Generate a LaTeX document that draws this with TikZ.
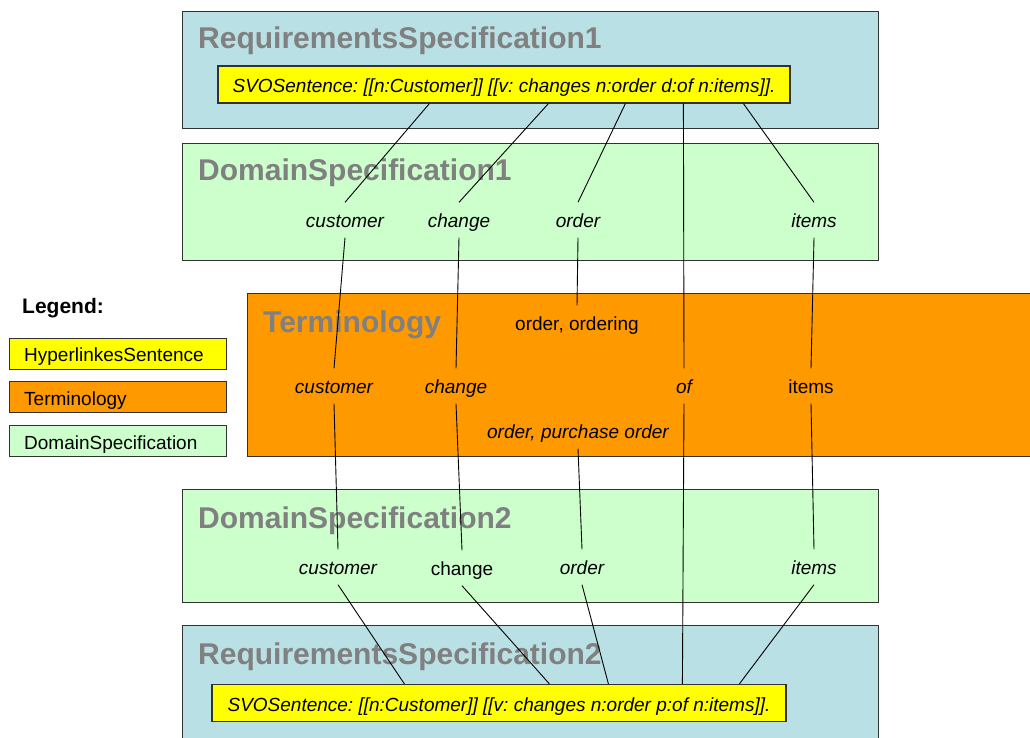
\documentclass[tikz,border=0pt]{standalone}
\usepackage{fontspec}
\setmainfont{Liberation Sans}
\usetikzlibrary{calc}
\frenchspacing
\definecolor{reqfill}{RGB}{185,224,228}
\definecolor{domfill}{RGB}{204,255,204}
\definecolor{termfill}{RGB}{255,153,0}
\definecolor{sentfill}{RGB}{255,255,0}
\definecolor{edgegray}{RGB}{50,50,50}
\definecolor{titlegray}{RGB}{128,128,128}
\begin{document}
\begin{tikzpicture}[x=1pt,y=-1pt,
  panel/.style={draw=edgegray, line width=1.2pt, inner sep=0pt, anchor=north west},
  paneltitle/.style={anchor=base west, inner sep=0pt, text=titlegray,
    font=\fontsize{30}{34}\bfseries\selectfont},
  sentence/.style={draw=edgegray, line width=1.2pt, fill=sentfill, inner sep=0pt,
    minimum height=37pt, text height=18pt, text depth=2pt,
    font=\fontsize{19}{22}\itshape\selectfont},
  word/.style={inner sep=0pt, minimum height=35pt, text height=16pt, text depth=2pt,
    font=\fontsize{19}{22}\selectfont},
  iword/.style={word, font=\fontsize{19}{22}\itshape\selectfont},
  legendbox/.style={draw=edgegray, line width=1.2pt, anchor=north west, inner sep=0pt,
    minimum width=217pt, minimum height=31pt},
  legendtext/.style={anchor=base west, inner sep=0pt, font=\fontsize{19}{22}\selectfont},
  link/.style={black, line width=0.9pt}]
\useasboundingbox (0,0) rectangle (1030,738);

% ---- panels -------------------------------------------------------------
\node[panel, fill=reqfill, minimum width=696pt, minimum height=117pt] (req1) at (182,11) {};
\node[paneltitle] (req1t) at (198,49) {RequirementsSpecification1};
\node[sentence, minimum width=572pt] (sent1) at (504,84.5)
  {SVOSentence: [[n:Customer]] [[v: changes n:order d:of n:items]].};

\node[panel, fill=domfill, minimum width=696pt, minimum height=117pt] (dom1) at (182,143) {};
\node[paneltitle] (dom1t) at (198,181) {DomainSpecification1};

\node[panel, fill=termfill, minimum width=790pt, minimum height=163pt] (term) at (247,293) {};
\node[paneltitle] (termt) at (263,332) {Terminology};

\node[panel, fill=domfill, minimum width=696pt, minimum height=113pt] (dom2) at (182,489) {};
\node[paneltitle] (dom2t) at (198,528) {DomainSpecification2};

\node[panel, fill=reqfill, minimum width=696pt, minimum height=130pt] (req2) at (182,625) {};
\node[paneltitle] (req2t) at (198,664) {RequirementsSpecification2};
\node[sentence, minimum width=574pt] (sent2) at (499,703)
  {SVOSentence: [[n:Customer]] [[v: changes n:order p:of n:items]].};

% ---- legend -------------------------------------------------------------
\node[anchor=base west, inner sep=0pt, font=\fontsize{21}{24}\bfseries\selectfont]
  (legend) at (22,313) {Legend:};
\node[legendbox, fill=sentfill] (lg1) at (9,338) {};
\node[legendtext] (lg1t) at (24,361) {HyperlinkesSentence};
\node[legendbox, fill=termfill] (lg2) at (9,381) {};
\node[legendtext] (lg2t) at (24,405) {Terminology};
\node[legendbox, fill=domfill] (lg3) at (9,425) {};
\node[legendtext] (lg3t) at (24,449) {DomainSpecification};

% ---- words --------------------------------------------------------------
\node[iword] (c1) at (345,220) {customer};
\node[iword] (h1) at (459,220) {change};
\node[iword] (o1) at (578,220) {order};
\node[iword] (i1) at (814,220) {items};

\node[word]  (tord) at (577,323) {order, ordering};
\node[iword] (tc)   at (334,386) {customer};
\node[iword] (th)   at (456,386) {change};
\node[iword] (tof)  at (684,386) {of};
\node[word]  (ti)   at (811,386) {items};
\node[iword] (tpo)  at (578,431) {order, purchase order};

\node[iword] (c2) at (338,567) {customer};
\node[word]  (h2) at (462,568) {change};
\node[iword] (o2) at (582,567) {order};
\node[iword] (i2) at (814,567) {items};

% ---- anchor points on the sentences --------------------------------------
\coordinate (s1c) at ($(sent1.south west)+(212,0)$);
\coordinate (s1h) at ($(sent1.south west)+(331,0)$);
\coordinate (s1o) at ($(sent1.south west)+(408,0)$);
\coordinate (s1f) at ($(sent1.south west)+(466,0)$);
\coordinate (s1i) at ($(sent1.south west)+(526,0)$);
\coordinate (s2c) at ($(sent2.north west)+(193,0)$);
\coordinate (s2h) at ($(sent2.north west)+(338,0)$);
\coordinate (s2o) at ($(sent2.north west)+(397,0)$);
\coordinate (s2f) at ($(sent2.north west)+(471,0)$);
\coordinate (s2i) at ($(sent2.north west)+(528,0)$);

% ---- links --------------------------------------------------------------
\draw[link] (s1c) -- (c1.north);
\draw[link] (s1h) -- (h1.north);
\draw[link] (s1o) -- (o1.north);
\draw[link] (s1f) -- (tof.north);
\draw[link] (s1i) -- (i1.north);

\draw[link] (c1.south) -- (tc.north);
\draw[link] (h1.south) -- (th.north);
\draw[link] (o1.south) -- (tord.north);
\draw[link] (i1.south) -- (ti.north);

\draw[link] (tc.south)  -- (c2.north);
\draw[link] (th.south)  -- (h2.north);
\draw[link] (tpo.south) -- (o2.north);
\draw[link] (ti.south)  -- (i2.north);
\draw[link] (tof.south) -- (s2f);

\draw[link] (c2.south) -- (s2c);
\draw[link] (h2.south) -- (s2h);
\draw[link] (o2.south) -- (s2o);
\draw[link] (i2.south) -- (s2i);
\end{tikzpicture}
\end{document}
